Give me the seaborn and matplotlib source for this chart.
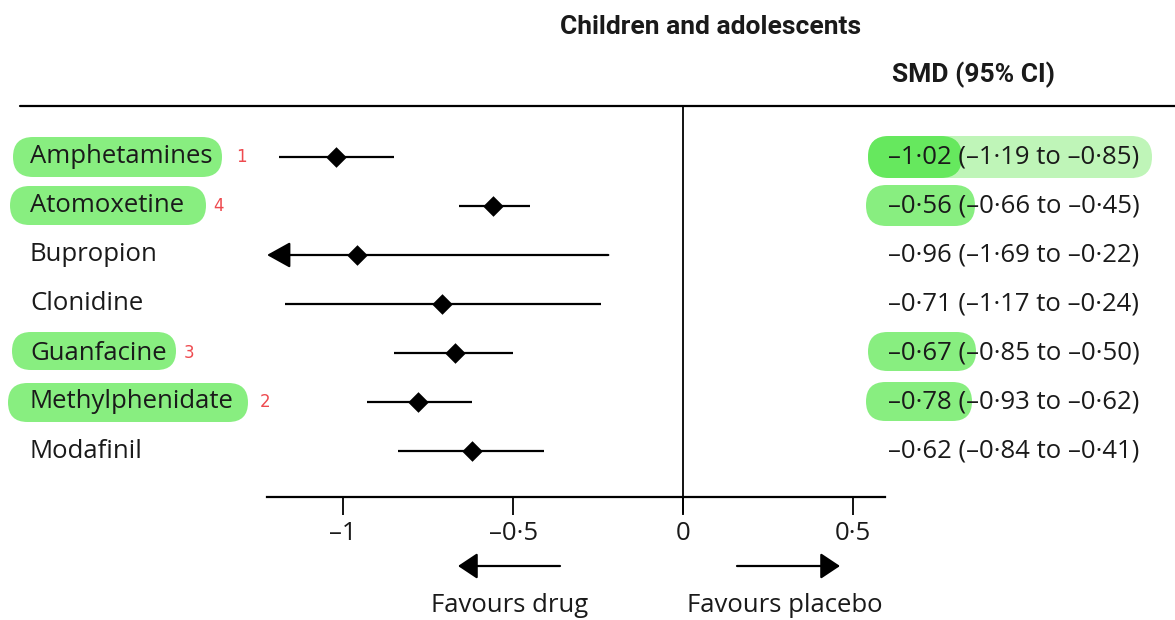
import matplotlib
matplotlib.use("Agg")
import matplotlib.pyplot as plt
import seaborn as sns
import pandas as pd
from matplotlib.patches import FancyBboxPatch, FancyArrowPatch
from matplotlib.transforms import IdentityTransform, blended_transform_factory
from matplotlib.lines import Line2D

# ---- data ----
drugs = ["Amphetamines", "Atomoxetine", "Bupropion", "Clonidine",
         "Guanfacine", "Methylphenidate", "Modafinil"]
smd = [-1.02, -0.56, -0.96, -0.71, -0.67, -0.78, -0.62]
ci_low = [-1.19, -0.66, -1.69, -1.17, -0.85, -0.93, -0.84]
ci_high = [-0.85, -0.45, -0.22, -0.24, -0.50, -0.62, -0.41]
ranks = {"Amphetamines": "1", "Atomoxetine": "4", "Guanfacine": "3", "Methylphenidate": "2"}
tick_vals = [-1, -0.5, 0, 0.5]
tick_labels = ["–1", "–0·5", "0", "0·5"]
title = "Children and adolescents"
col_header = "SMD (95% CI)"

def fmt(v):
    s = f"{abs(v):.2f}".replace(".", "·")
    return ("–" if v < 0 else "") + s

df = pd.DataFrame({"drug": drugs, "smd": smd, "lo": ci_low, "hi": ci_high})
df["row"] = range(len(df))

W, H = 1175, 620
sns.set_theme(style="white")
plt.rcParams["font.family"] = ["Open Sans", "DejaVu Sans"]
fig = plt.figure(figsize=(W / 100, H / 100), dpi=100)

def fx(x): return x / W
def fy(y): return 1 - y / H

x0, x1 = 267, 885
ytop, ybot = 106, 497
ax = fig.add_axes([fx(x0), fy(ybot), fx(x1) - fx(x0), fy(ytop) - fy(ybot)])
xmin, xmax = -1.224, 0.594
ax.set_xlim(xmin, xmax)
row0, rowstep = 157, 49
ax.set_ylim((ybot - row0) / rowstep, (ytop - row0) / rowstep)
ax.set_facecolor("none")

green = "#88ee80"
green_dark = "#66e85e"
green_light = "#bff5b8"
ink = "#1a1a1a"
FS = 18.5

def pbox(xa, ya, xb, yb, color, z=0):
    p = FancyBboxPatch((xa, H - yb), xb - xa, yb - ya,
                       boxstyle=f"round,pad=0,rounding_size={(yb-ya)/2:.1f}",
                       transform=IdentityTransform(), fc=color, ec="none", zorder=z)
    fig.add_artist(p)

# left highlights
pbox(13, 137, 222, 177, green)
pbox(10, 186, 206, 225, green)
pbox(12, 332, 176, 370, green)
pbox(8, 383, 248, 422, green)
# right highlights
pbox(868, 136, 1152, 178, green_light)
pbox(868, 136, 962, 178, green_dark)
pbox(866, 185, 975, 226, green)
pbox(868, 332, 976, 371, green)
pbox(866, 382, 972, 421, green)

# CI lines
for _, r in df.iterrows():
    if r.lo < xmin:
        ax.annotate("", xy=(xmin, r.row), xytext=(r.hi, r.row),
                    arrowprops=dict(arrowstyle="-|>,head_length=0.9,head_width=0.5",
                                    lw=1.6, color="black",
                                    shrinkA=0, shrinkB=0, mutation_scale=16), zorder=2)
    else:
        ax.hlines(r.row, r.lo, r.hi, color="black", lw=1.6, zorder=2)

sns.scatterplot(data=df, x="smd", y="row", marker="D", s=110, color="black",
                edgecolor="black", linewidth=0, ax=ax, zorder=3, legend=False)

ax.axvline(0, ymin=-0.04, ymax=1, color="black", lw=1.3, clip_on=False, zorder=1)

for s in ["top", "right", "left"]:
    ax.spines[s].set_visible(False)
ax.spines["bottom"].set_linewidth(1.6)
ax.spines["bottom"].set_color("black")
ax.set_yticks([])
ax.set_xticks(tick_vals)
ax.set_xticklabels(tick_labels, fontsize=FS, color=ink)
ax.tick_params(axis="x", direction="out", length=13, width=1.3, color="black", pad=4, bottom=True)
ax.set_xlabel("")
ax.set_ylabel("")

lt = blended_transform_factory(fig.transFigure, ax.transData)
for _, r in df.iterrows():
    ax.text(fx(30), r.row, r.drug, transform=lt, ha="left", va="center",
            fontsize=FS, color=ink)
    txt = f"{fmt(r.smd)} ({fmt(r.lo)} to {fmt(r.hi)})"
    ax.text(fx(888), r.row, txt, transform=lt, ha="left", va="center",
            fontsize=FS, color=ink)

rank_x = {"Amphetamines": 241, "Atomoxetine": 219, "Guanfacine": 189, "Methylphenidate": 265}
for _, r in df.iterrows():
    if r.drug in ranks:
        ax.text(fx(rank_x[r.drug]), r.row, ranks[r.drug], transform=lt, ha="center",
                va="center", fontsize=12, color="#ee4a4f", family=["DejaVu Sans"])

# header
fig.text(fx(711), fy(27), title, ha="center", va="center", fontsize=19,
         fontweight="semibold", family=["Roboto", "DejaVu Sans"], color=ink)
fig.text(fx(973), fy(75), col_header, ha="center", va="center", fontsize=19,
         fontweight="semibold", family=["Roboto", "DejaVu Sans"], color=ink)
fig.add_artist(Line2D([fx(20), 1.0], [fy(106), fy(106)], transform=fig.transFigure,
                      color="black", lw=1.6))

# favours arrows
for xa, xb in [(560, 458), (737, 840)]:
    fig.add_artist(FancyArrowPatch((fx(xa), fy(566)), (fx(xb), fy(566)),
                   transform=fig.transFigure, arrowstyle="-|>,head_length=0.75,head_width=0.5",
                   mutation_scale=16, lw=1.6, color="black", shrinkA=0, shrinkB=0))
fig.text(fx(510), fy(605), "Favours drug", ha="center", va="center", fontsize=FS, color=ink)
fig.text(fx(785), fy(605), "Favours placebo", ha="center", va="center", fontsize=FS, color=ink)

fig.savefig("out.png", dpi=100, facecolor="white")
